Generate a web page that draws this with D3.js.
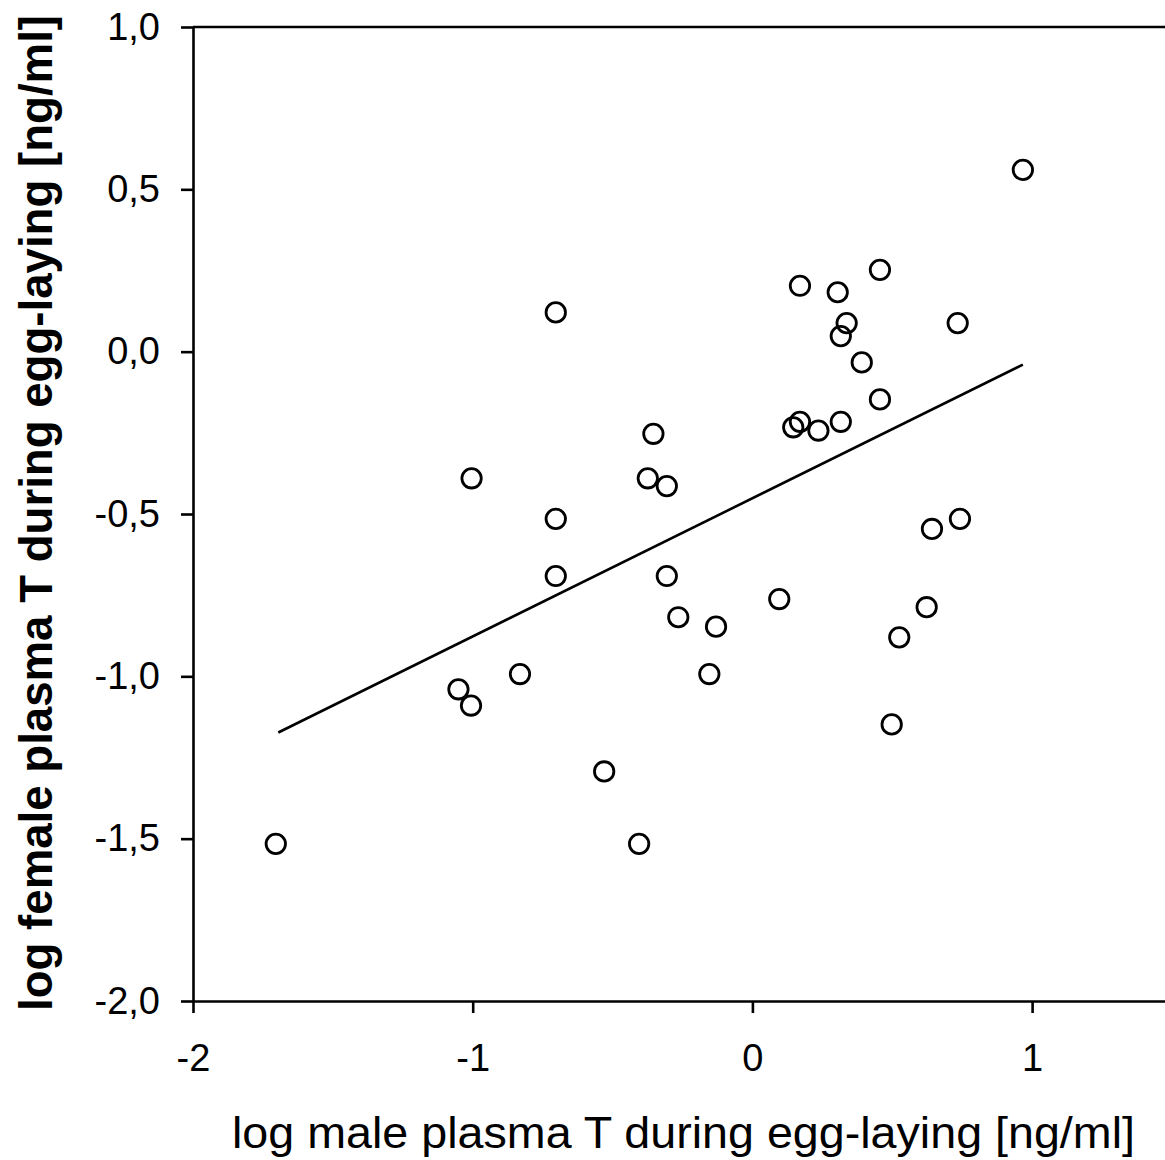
<!DOCTYPE html>
<html>
<head>
<meta charset="utf-8">
<script src="https://cdn.jsdelivr.net/npm/d3@7"></script>
<style>
  html, body { margin: 0; padding: 0; background: #fff; }
  svg { display: block; }
</style>
</head>
<body>
<div id="chart"></div>
<script>
// ---- Data ----
const maleT = [
  0.967, 0.456, 0.170, 0.305, 0.337, 0.316, 0.734, 0.391, 0.456, 0.146,
  0.170, 0.236, 0.316, -0.703, -0.354, -1.004, -0.374, -0.306, -0.703, -0.703,
  -0.306, -0.265, -0.130, -0.831, -1.051, -1.006, -0.154, -0.530, -1.704, -0.405,
  0.096, 0.623, 0.525, 0.498, 0.642, 0.742
];
const femaleT = [
  0.560, 0.252, 0.203, 0.183, 0.088, 0.048, 0.088, -0.033, -0.147, -0.233,
  -0.216, -0.243, -0.216, 0.121, -0.253, -0.390, -0.390, -0.414, -0.515, -0.691,
  -0.691, -0.818, -0.847, -0.993, -1.040, -1.090, -0.993, -1.293, -1.516, -1.516,
  -0.762, -0.787, -0.880, -1.148, -0.546, -0.515
];
// Regression line end points
const regX = [-1.695, 0.967];
const regY = [-1.173, -0.040];

const xTicks = [-2, -1, 0, 1];
const xTickLabels = ["-2", "-1", "0", "1"];
const yTicks = [1.0, 0.5, 0.0, -0.5, -1.0, -1.5, -2.0];
const yTickLabels = ["1,0", "0,5", "0,0", "-0,5", "-1,0", "-1,5", "-2,0"];

const xTitle = "log male plasma T during egg-laying [ng/ml]";
const yTitle = "log female plasma T during egg-laying [ng/ml]";

// ---- Layout ----
const W = 1165, H = 1160;
const FONT = "'Liberation Sans', Arial, Helvetica, sans-serif";

const svg = d3.select("#chart").append("svg")
  .attr("width", W).attr("height", H)
  .style("font-family", FONT);

const x = d3.scaleLinear().domain([-2, 1.5]).range([193, 193 + 3.5 * 279.7]);
const y = d3.scaleLinear().domain([-2, 1]).range([1001, 27]);

// Top border
svg.append("line")
  .attr("x1", x(-2)).attr("x2", x(1.5))
  .attr("y1", y(1)).attr("y2", y(1))
  .attr("stroke", "#000").attr("stroke-width", 2.6);

// Left axis
const yAxis = d3.axisLeft(y)
  .tickValues(yTicks)
  .tickSize(12)
  .tickSizeOuter(0)
  .tickPadding(21)
  .tickFormat((d, i) => yTickLabels[i]);
const gy = svg.append("g").attr("transform", `translate(${x(-2)},0)`).call(yAxis);
gy.select(".domain").attr("stroke", "#000").attr("stroke-width", 2.6);
gy.selectAll(".tick line").attr("stroke", "#000").attr("stroke-width", 2.6);
gy.selectAll(".tick text")
  .attr("fill", "#000")
  .style("font-size", "38px")
  .style("font-family", FONT);

// Bottom axis
const xAxis = d3.axisBottom(x)
  .tickValues(xTicks)
  .tickSize(12)
  .tickSizeOuter(0)
  .tickPadding(31)
  .tickFormat((d, i) => xTickLabels[i]);
const gx = svg.append("g").attr("transform", `translate(0,${y(-2)})`).call(xAxis);
gx.select(".domain").attr("stroke", "#000").attr("stroke-width", 2.6);
gx.selectAll(".tick line").attr("stroke", "#000").attr("stroke-width", 2.6);
gx.selectAll(".tick text")
  .attr("fill", "#000")
  .style("font-size", "38px")
  .style("font-family", FONT);

// Regression line
svg.append("path")
  .datum(regX.map((v, i) => [v, regY[i]]))
  .attr("fill", "none")
  .attr("stroke", "#000")
  .attr("stroke-width", 2.6)
  .attr("d", d3.line().x(d => x(d[0])).y(d => y(d[1])));

// Points
svg.append("g").selectAll("circle")
  .data(maleT.map((v, i) => [v, femaleT[i]]))
  .join("circle")
  .attr("cx", d => x(d[0]))
  .attr("cy", d => y(d[1]))
  .attr("r", 9.7)
  .attr("fill", "none")
  .attr("stroke", "#000")
  .attr("stroke-width", 2.8);

// Axis titles
svg.append("text")
  .attr("x", 683.5).attr("y", 1148)
  .attr("text-anchor", "middle")
  .attr("textLength", 903)
  .attr("lengthAdjust", "spacingAndGlyphs")
  .style("font-size", "45px")
  .attr("fill", "#000")
  .text(xTitle);

svg.append("text")
  .attr("transform", "translate(52,513) rotate(-90)")
  .attr("text-anchor", "middle")
  .attr("textLength", 996)
  .attr("lengthAdjust", "spacingAndGlyphs")
  .style("font-size", "46px")
  .style("font-weight", "bold")
  .attr("fill", "#000")
  .text(yTitle);
</script>
</body>
</html>
